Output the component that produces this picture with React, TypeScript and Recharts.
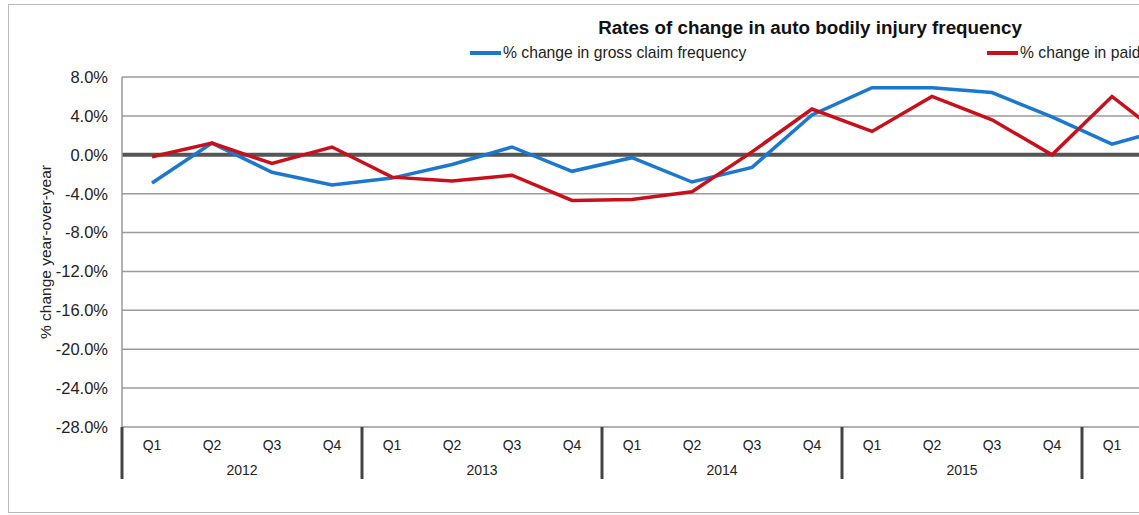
import { LineChart, Line, XAxis, YAxis, CartesianGrid, ReferenceLine } from 'recharts'

const quarters = ['Q1', 'Q2', 'Q3', 'Q4', 'Q1', 'Q2', 'Q3', 'Q4', 'Q1', 'Q2', 'Q3', 'Q4', 'Q1', 'Q2', 'Q3', 'Q4', 'Q1', 'Q2']
const years = ['2012', '2012', '2012', '2012', '2013', '2013', '2013', '2013', '2014', '2014', '2014', '2014', '2015', '2015', '2015', '2015', '2016', '2016']
const grossClaimFreq = [-2.9, 1.2, -1.8, -3.1, -2.4, -1.0, 0.8, -1.7, -0.3, -2.8, -1.3, 4.1, 6.9, 6.9, 6.4, 3.9, 1.1, 2.8]
const paidClaimFreq = [-0.2, 1.2, -0.9, 0.8, -2.3, -2.7, -2.1, -4.7, -4.6, -3.8, 0.3, 4.7, 2.4, 6.0, 3.6, 0.0, 6.0, 1.2]
const yTicks = [8, 4, 0, -4, -8, -12, -16, -20, -24, -28]

const titleText = 'Rates of change in auto bodily injury frequency'
const yLabel = '% change year-over-year'
const grossName = '% change in gross claim frequency'
const paidName = '% change in paid claim frequency'

const BLUE = '#1b78cf'
const RED = '#c8101c'
const FONT = '"Liberation Sans", Arial, sans-serif'

const data = quarters.map((q, i) => ({
  q,
  year: years[i],
  gross: grossClaimFreq[i],
  paid: paidClaimFreq[i],
}))

// quarter label + year label under Q2 + separator before each Q1
function QuarterTick(props: any) {
  const { x, y, index } = props
  const row = data[index]
  if (!row) return null
  return (
    <g>
      <text x={x} y={y + 23} textAnchor="middle" fontSize={14} fill="#222" fontFamily={FONT}>
        {row.q}
      </text>
      {row.q === 'Q2' && (
        <text x={x + 30} y={y + 48} textAnchor="middle" fontSize={14} fill="#222" fontFamily={FONT}>
          {row.year}
        </text>
      )}
      {row.q === 'Q1' && (
        <line x1={x - 30} x2={x - 30} y1={y} y2={y + 52} stroke="#444" strokeWidth={3} />
      )}
    </g>
  )
}

function LegendItem({ left, color, name }: { left: number; color: string; name: string }) {
  return (
    <div style={{ position: 'absolute', left, top: 44, display: 'flex', alignItems: 'center', whiteSpace: 'nowrap' }}>
      <span style={{ display: 'inline-block', width: 31, height: 4, background: color, marginRight: 2 }} />
      <span style={{ fontSize: 15.7, color: '#222', fontFamily: FONT, lineHeight: '18px' }}>{name}</span>
    </div>
  )
}

export default function App() {
  return (
    <div style={{ position: 'absolute', left: 0, top: 0, width: 1139, height: 515, overflow: 'hidden', background: '#fff' }}>
      <div style={{ position: 'absolute', left: 8, top: 4, width: 1213, height: 507, border: '1px solid #bbb' }}>
        <LineChart
          width={1213}
          height={507}
          data={data}
          margin={{ top: 72, right: 20, left: 0, bottom: 5 }}
          style={{ fontFamily: FONT }}
        >
          <CartesianGrid vertical={false} stroke="#9a9a9a" strokeWidth={1.5} />
          <XAxis
            dataKey="q"
            interval={0}
            axisLine={false}
            tickLine={false}
            tickSize={0}
            tickMargin={0}
            height={80}
            padding={{ left: 30, right: 30 }}
            tick={QuarterTick}
          />
          <YAxis
            domain={[-28, 8]}
            ticks={yTicks}
            width={113}
            interval={0}
            tickLine={false}
            tickSize={0}
            tickMargin={14}
            axisLine={{ stroke: '#9a9a9a', strokeWidth: 1.5 }}
            tickFormatter={(v: number) => v.toFixed(1) + '%'}
            tick={{ fontSize: 16.5, fill: '#222', fontFamily: FONT }}
            label={{ value: yLabel, angle: -90, position: 'insideLeft', offset: 36, style: { textAnchor: 'middle', fontSize: 15.5, fill: '#222', fontFamily: FONT } }}
          />
          <ReferenceLine y={0} stroke="#555" strokeWidth={4} />
          <Line type="linear" dataKey="gross" name={grossName} stroke={BLUE} strokeWidth={3.5} dot={false} isAnimationActive={false} />
          <Line type="linear" dataKey="paid" name={paidName} stroke={RED} strokeWidth={3.5} dot={false} isAnimationActive={false} />
        </LineChart>
      </div>
      <div style={{ position: 'absolute', left: 810, top: 17, transform: 'translateX(-50%)', whiteSpace: 'nowrap', fontFamily: FONT, fontWeight: 'bold', fontSize: 18.8, color: '#111' }}>
        {titleText}
      </div>
      <LegendItem left={470} color={BLUE} name={grossName} />
      <LegendItem left={987} color={RED} name={paidName} />
    </div>
  )
}
